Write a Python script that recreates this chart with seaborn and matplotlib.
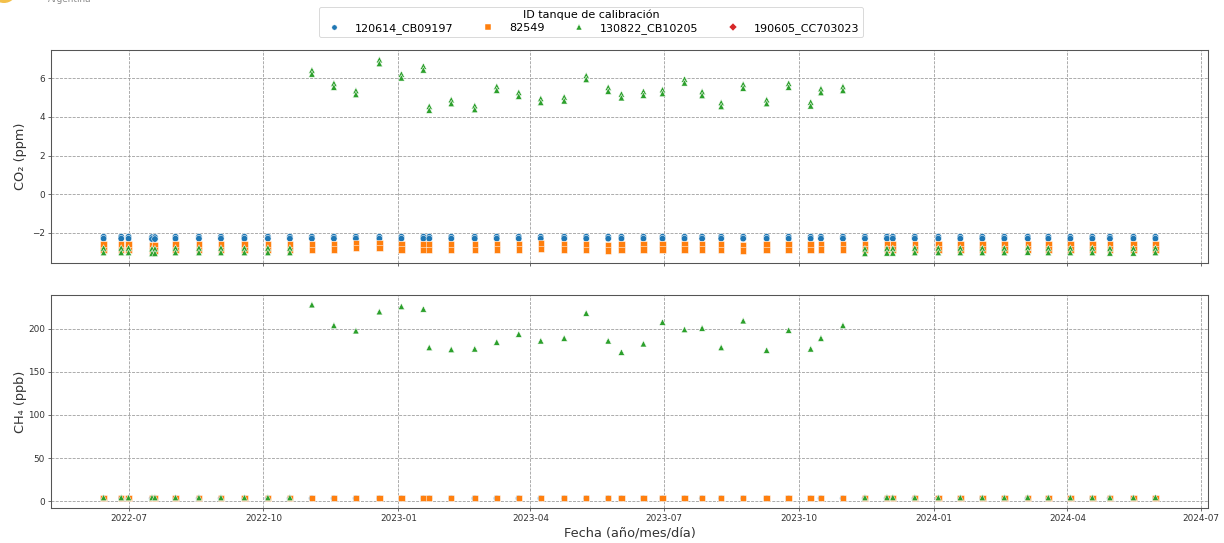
import matplotlib
matplotlib.use("Agg")
import matplotlib.pyplot as plt
import matplotlib.dates as mdates
from matplotlib.lines import Line2D
from matplotlib.patches import Ellipse
import pandas as pd
import seaborn as sns

# ---------------- data ----------------
fechas = [
    "2022-06-14", "2022-06-26", "2022-07-01", "2022-07-17", "2022-07-19",
    "2022-08-02", "2022-08-18", "2022-09-02", "2022-09-18", "2022-10-04",
    "2022-10-19", "2022-11-03", "2022-11-18", "2022-12-03", "2022-12-19",
    "2023-01-03", "2023-01-18", "2023-01-22", "2023-02-06", "2023-02-22",
    "2023-03-09", "2023-03-24", "2023-04-08", "2023-04-24", "2023-05-09",
    "2023-05-24", "2023-06-02", "2023-06-17", "2023-06-30", "2023-07-15",
    "2023-07-27", "2023-08-09", "2023-08-24", "2023-09-09", "2023-09-24",
    "2023-10-09", "2023-10-16", "2023-10-31", "2023-11-15", "2023-11-30",
    "2023-12-04", "2023-12-19", "2024-01-04", "2024-01-19", "2024-02-03",
    "2024-02-18", "2024-03-05", "2024-03-19", "2024-04-03", "2024-04-18",
    "2024-04-30", "2024-05-16", "2024-05-31",
]

tanques = ["120614_CB09197", "82549", "130822_CB10205", "190605_CC703023"]

# CO2 differences (ppm), two runs per calibration date
co2_120614_a = [
    -2.20, -2.20, -2.20, -2.22, -2.22, -2.20, -2.20, -2.20, -2.20, -2.20,
    -2.20, -2.20, -2.20, -2.20, -2.20, -2.20, -2.20, -2.20, -2.20, -2.20,
    -2.20, -2.20, -2.20, -2.20, -2.20, -2.20, -2.20, -2.20, -2.20, -2.20,
    -2.20, -2.20, -2.20, -2.20, -2.20, -2.20, -2.20, -2.20, -2.20, -2.20,
    -2.20, -2.20, -2.20, -2.20, -2.20, -2.20, -2.20, -2.20, -2.20, -2.20,
    -2.20, -2.20, -2.20,
]
co2_120614_b = [
    -2.30, -2.30, -2.30, -2.32, -2.32, -2.30, -2.30, -2.30, -2.30, -2.30,
    -2.30, -2.30, -2.30, -2.30, -2.30, -2.30, -2.30, -2.30, -2.30, -2.30,
    -2.30, -2.30, -2.30, -2.30, -2.30, -2.30, -2.30, -2.30, -2.30, -2.30,
    -2.30, -2.30, -2.30, -2.30, -2.30, -2.30, -2.30, -2.30, -2.30, -2.30,
    -2.30, -2.30, -2.30, -2.30, -2.30, -2.30, -2.30, -2.30, -2.30, -2.30,
    -2.30, -2.30, -2.30,
]
co2_82549_a = [
    -2.60, -2.60, -2.60, -2.62, -2.62, -2.60, -2.60, -2.60, -2.60, -2.60,
    -2.60, -2.60, -2.58, -2.52, -2.52, -2.58, -2.60, -2.60, -2.60, -2.60,
    -2.58, -2.58, -2.55, -2.58, -2.60, -2.62, -2.60, -2.58, -2.58, -2.58,
    -2.58, -2.60, -2.62, -2.60, -2.60, -2.60, -2.58, -2.58, -2.58, -2.58,
    -2.58, -2.58, -2.58, -2.58, -2.58, -2.58, -2.58, -2.58, -2.58, -2.58,
    -2.58, -2.58, -2.58,
]
co2_82549_b = [
    -2.88, -2.88, -2.88, -2.92, -2.92, -2.88, -2.88, -2.88, -2.88, -2.88,
    -2.88, -2.88, -2.86, -2.80, -2.80, -2.86, -2.88, -2.88, -2.88, -2.88,
    -2.86, -2.86, -2.84, -2.86, -2.88, -2.92, -2.88, -2.86, -2.86, -2.86,
    -2.86, -2.88, -2.92, -2.88, -2.88, -2.88, -2.86, -2.86, -2.86, -2.86,
    -2.86, -2.86, -2.86, -2.86, -2.86, -2.86, -2.86, -2.86, -2.86, -2.86,
    -2.86, -2.86, -2.86,
]
co2_130822_a = [
    -2.78, -2.78, -2.78, -2.82, -2.82, -2.78, -2.78, -2.78, -2.78, -2.78,
    -2.78, 6.42, 5.74, 5.36, 6.96, 6.22, 6.63, 4.55, 4.89, 4.58,
    5.58, 5.27, 4.95, 5.03, 6.14, 5.53, 5.19, 5.32, 5.41, 5.96,
    5.31, 4.74, 5.69, 4.89, 5.74, 4.77, 5.46, 5.57, -2.82, -2.80,
    -2.80, -2.78, -2.78, -2.78, -2.78, -2.78, -2.76, -2.78, -2.78, -2.78,
    -2.80, -2.80, -2.78,
]
co2_130822_b = [
    -3.02, -3.02, -3.02, -3.06, -3.06, -3.02, -3.02, -3.02, -3.02, -3.02,
    -3.02, 6.22, 5.54, 5.16, 6.76, 6.02, 6.43, 4.35, 4.69, 4.38,
    5.38, 5.07, 4.75, 4.83, 5.94, 5.33, 4.99, 5.12, 5.21, 5.76,
    5.11, 4.54, 5.49, 4.69, 5.54, 4.57, 5.26, 5.37, -3.06, -3.04,
    -3.04, -3.02, -3.02, -3.02, -3.02, -3.02, -3.00, -3.02, -3.02, -3.02,
    -3.04, -3.04, -3.02,
]

# CH4 differences (ppb)
ch4_120614 = [
    3.4, 3.4, 3.4, 3.4, 3.4, 3.4, 3.4, 3.4, 3.4, 3.4,
    3.4, 3.4, 3.4, 3.4, 3.4, 3.4, 3.4, 3.4, 3.4, 3.4,
    3.4, 3.4, 3.4, 3.4, 3.4, 3.4, 3.4, 3.4, 3.4, 3.4,
    3.4, 3.4, 3.4, 3.4, 3.4, 3.4, 3.4, 3.4, 3.4, 3.4,
    3.4, 3.4, 3.4, 3.4, 3.4, 3.4, 3.4, 3.4, 3.4, 3.4,
    3.4, 3.4, 3.4,
]
ch4_82549 = [
    3.6, 3.6, 3.6, 3.6, 3.6, 3.6, 3.6, 3.6, 3.6, 3.6,
    3.6, 3.6, 3.6, 3.6, 3.6, 3.6, 3.6, 3.6, 3.6, 3.6,
    3.6, 3.6, 3.6, 3.6, 3.6, 3.6, 3.6, 3.6, 3.6, 3.6,
    3.6, 3.6, 3.6, 3.6, 3.6, 3.6, 3.6, 3.6, 3.6, 3.6,
    3.6, 3.6, 3.6, 3.6, 3.6, 3.6, 3.6, 3.6, 3.6, 3.6,
    3.6, 3.6, 3.6,
]
ch4_130822 = [
    4.3, 4.3, 4.3, 4.3, 4.3, 4.3, 4.3, 4.3, 4.3, 4.3,
    4.3, 227.9, 203.9, 197.7, 219.8, 225.9, 222.9, 178.3, 176.0, 176.7,
    184.5, 193.8, 186.0, 189.1, 218.2, 186.0, 172.9, 182.6, 207.8, 199.2,
    200.8, 178.3, 209.3, 175.2, 198.4, 176.7, 189.1, 203.9, 4.3, 4.5,
    4.5, 4.3, 4.3, 4.3, 4.3, 4.3, 4.6, 4.3, 4.3, 4.3,
    4.3, 4.3, 4.6,
]

colores = ["#1f77b4", "#ff7f0e", "#2ca02c", "#d62728"]
marcadores = ["o", "s", "^", "D"]

# ---------------- long-form tables ----------------
fechas_dt = pd.to_datetime(fechas)
co2_rows = []
for tq, serie in [(tanques[0], co2_120614_a), (tanques[0], co2_120614_b),
                  (tanques[1], co2_82549_a), (tanques[1], co2_82549_b),
                  (tanques[2], co2_130822_a), (tanques[2], co2_130822_b)]:
    co2_rows.append(pd.DataFrame({"fecha": fechas_dt, "tanque": tq, "valor": serie}))
df_co2 = pd.concat(co2_rows, ignore_index=True)

ch4_rows = []
for tq, serie in [(tanques[0], ch4_120614), (tanques[1], ch4_82549),
                  (tanques[2], ch4_130822)]:
    ch4_rows.append(pd.DataFrame({"fecha": fechas_dt, "tanque": tq, "valor": serie}))
df_ch4 = pd.concat(ch4_rows, ignore_index=True)

# ---------------- figure ----------------
DPI = 64
fig = plt.figure(figsize=(1224 / DPI, 543 / DPI), dpi=DPI)
W, H = 1224, 543
ax1 = fig.add_axes([51 / W, 1 - 263 / H, (1208 - 51) / W, (263 - 50) / H])
ax2 = fig.add_axes([51 / W, 1 - 508 / H, (1208 - 51) / W, (508 - 295) / H], sharex=ax1)

pal = dict(zip(tanques, colores))
mk = dict(zip(tanques, marcadores))

for ax, df in [(ax1, df_co2), (ax2, df_ch4)]:
    sns.scatterplot(data=df, x="fecha", y="valor", hue="tanque", style="tanque",
                    hue_order=tanques[:3], style_order=tanques[:3],
                    palette=pal, markers=mk, s=52, ax=ax, legend=False)
    ax.grid(True, linestyle="--", color="#9a9a9a", linewidth=0.9)
    ax.set_axisbelow(True)
    for sp in ax.spines.values():
        sp.set_color("#555555")
        sp.set_linewidth(1.2)
    ax.tick_params(colors="#333333", labelsize=10)

ax1.set_ylabel("CO\u2082 (ppm)", fontsize=14.5, color="#333333")
ax2.set_ylabel("CH\u2084 (ppb)", fontsize=14.5, color="#333333")
ax1.set_xlabel("")
ax2.set_xlabel("Fecha (año/mes/día)", fontsize=14.5, color="#333333")
ax1.tick_params(labelbottom=False)

ax2.xaxis.set_major_locator(mdates.MonthLocator(bymonth=[1, 4, 7, 10]))
ax2.xaxis.set_major_formatter(mdates.DateFormatter("%Y-%m"))
ax1.set_yticks([-2, 0, 2, 4, 6])
ax2.set_yticks([0, 50, 100, 150, 200])

ax1.yaxis.set_label_coords(-0.021, 0.5)
ax2.yaxis.set_label_coords(-0.021, 0.5)

handles = [Line2D([], [], linestyle="none", marker=m, color=c, markersize=6,
                  markeredgecolor="white", markeredgewidth=0.5)
           for m, c in zip(marcadores, colores)]
fig.legend(handles, tanques, loc="upper center", bbox_to_anchor=(591 / W, 1 - 1 / H),
           ncol=4, title="ID tanque de calibración", fontsize=12.5, title_fontsize=12.5,
           frameon=True, edgecolor="#cccccc", columnspacing=2.1, handletextpad=0.9,
           borderpad=0.3, labelspacing=0.2)

# cropped logo fragment at the top-left corner
fig.patches.append(Ellipse((4 / W, 1 + 10 / H), 26 / W, 26 / H, transform=fig.transFigure,
                           facecolor="#f3c04a", edgecolor="none", figure=fig))
fig.text(48 / W, 1 - 1.5 / H, "Argentina", fontsize=10, color="#888888", va="baseline")

fig.savefig("out.png", dpi=DPI)
